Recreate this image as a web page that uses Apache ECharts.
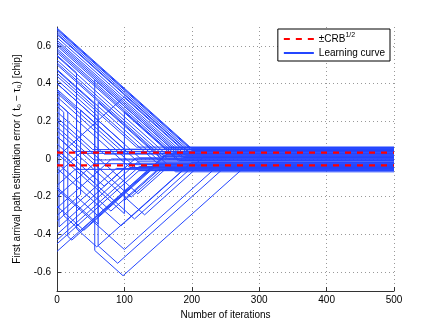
<!DOCTYPE html>
<html>
<head>
    <meta charset="utf-8">
    <title>learning curves</title>
    <script src="https://cdn.jsdelivr.net/npm/echarts@6/dist/echarts.min.js"></script>
    <style>
        html, body { margin: 0; padding: 0; background: #fff; }
        #chart { width: 436px; height: 328px; }
    </style>
</head>
<body>
<div id="chart"></div>
<script>
    // tick labels
    var xTicks = [0, 100, 200, 300, 400, 500];
    var yTicks = [-0.6, -0.4, -0.2, 0, 0.2, 0.4, 0.6];
    var crbLevel = 0.034;

    // learning curves, breakpoints [iteration, error]
    var descendingCurves = [
        [[0, 0.695], [200, 0.055], [500, 0.055]],
        [[0, 0.69], [197, 0.06], [500, 0.06]],
        [[0, 0.685], [200, 0.045], [500, 0.045]],
        [[0, 0.675], [192, 0.06], [500, 0.06]],
        [[0, 0.665], [195, 0.04], [500, 0.04]],
        [[0, 0.66], [197, 0.03], [500, 0.03]],
        [[0, 0.645], [186, 0.05], [500, 0.05]],
        [[0, 0.63], [191, 0.02], [500, 0.02]],
        [[0, 0.62], [181, 0.04], [500, 0.04]],
        [[0, 0.61], [188, 0.008], [500, 0.008]],
        [[0, 0.60], [184, 0.01], [500, 0.01]],
        [[0, 0.585], [172, 0.035], [500, 0.035]],
        [[0, 0.575], [182, -0.008], [500, -0.008]],
        [[0, 0.565], [180, -0.01], [500, -0.01]],
        [[0, 0.545], [162, 0.025], [500, 0.025]],
        [[0, 0.525], [164, 0.0], [500, 0.0]],
        [[0, 0.51], [155, 0.014], [500, 0.014]],
        [[0, 0.50], [152, 0.015], [500, 0.015]],
        [[0, 0.475], [150, -0.005], [500, -0.005]],
        [[0, 0.455], [148, -0.02], [500, -0.02]],
        [[0, 0.44], [118, 0.063], [500, 0.063]],
        [[0, 0.40], [123, 0.005], [500, 0.005]],
        [[0, 0.37], [125, -0.03], [500, -0.03]],
        [[0, 0.35], [100, 0.03], [500, 0.03]],
        [[0, 0.33], [122, -0.062], [500, -0.062]],
        [[0, 0.30], [108, -0.045], [500, -0.045]],
        [[0, 0.25], [70, 0.026], [500, 0.026]],
        [[0, 0.22], [53, 0.05], [500, 0.05]],
        [[0, 0.17], [55, -0.005], [500, -0.005]],
        [[0, 0.12], [25, 0.04], [500, 0.04]]
    ];
    var risingCurves = [
        [[0, -0.49], [142, -0.035], [500, -0.035]],
        [[0, -0.45], [122, -0.06], [500, -0.06]],
        [[0, -0.43], [122, -0.04], [500, -0.04]],
        [[0, -0.40], [120, -0.015], [500, -0.015]],
        [[0, -0.33], [88, -0.05], [500, -0.05]],
        [[0, -0.26], [81, 0.0], [500, 0.0]],
        [[0, -0.20], [55, -0.025], [500, -0.025]],
        [[0, -0.14], [27, -0.055], [500, -0.055]],
        [[0, -0.08], [34, 0.03], [500, 0.03]]
    ];
    var overshootCurves = [
        [[0, 0.12], [130, -0.296], [216, -0.02], [500, -0.02]],
        [[0, 0.05], [115, -0.318], [217, 0.01], [500, 0.01]],
        [[0, 0.20], [120, -0.184], [162, -0.05], [500, -0.05]],
        [[0, -0.02], [80, -0.276], [148, -0.06], [500, -0.06]],
        [[0, 0.08], [70, -0.144], [117, 0.005], [500, 0.005]],
        [[0, -0.16], [100, -0.48], [236, -0.045], [500, -0.045]],
        [[0, -0.05], [95, -0.354], [200, -0.018], [500, -0.018]],
        [[0, -0.25], [40, -0.378], [150, -0.026], [500, -0.026]],
        [[0, 0.15], [110, -0.202], [155, -0.058], [500, -0.058]]
    ];
    var jumpCurves = [
        [[0, 0.30], [16, 0.249], [16, -0.41], [22, -0.43], [138, -0.06], [500, -0.06]],
        [[0, 0.36], [29, 0.267], [29, -0.37], [59, -0.466], [194, -0.035], [500, -0.035]],
        [[0, 0.47], [56, 0.291], [56, -0.485], [98, -0.619], [276, -0.05], [500, -0.05]],
        [[0, 0.42], [61, 0.225], [61, -0.46], [90, -0.553], [250, -0.04], [500, -0.04]],
        [[0, 0.01], [100, 0.33], [190, 0.042], [500, 0.042]],
        [[0, 0.03], [100, -0.29], [100, 0.25], [160, 0.058], [500, 0.058]],
        [[0, 0.37], [3, 0.36], [3, -0.36], [106, -0.03], [500, -0.03]],
        [[0, 0.28], [10, 0.248], [10, -0.30], [35, -0.38], [160, 0.02], [500, 0.02]],
        [[0, -0.30], [35, -0.188], [35, 0.26], [100, 0.052], [500, 0.052]],
        [[0, 0.05], [56, -0.129], [56, 0.42], [168, 0.062], [500, 0.062]],
        [[0, -0.15], [61, -0.345], [61, 0.30], [176, -0.068], [500, -0.068]],
        [[0, 0.55], [29, 0.457], [29, -0.20], [61, -0.302], [168, 0.04], [500, 0.04]],
        [[0, 0.40], [100, 0.08], [100, -0.22], [152, -0.054], [500, -0.054]]
    ];

    var CRB = '±CRB1/2';
    var LC = 'Learning curve';
    var FONT = 'Liberation Sans';
    var BLUE = '#2446ff';

    var chart = echarts.init(document.getElementById('chart'), null, {renderer: 'canvas'});

    var allCurves = descendingCurves.concat(risingCurves, overshootCurves, jumpCurves);
    var series = [];
    allCurves.forEach(function (c) {
        series.push({
            name: LC,
            type: 'line',
            data: c,
            symbol: 'none',
            silent: true,
            z: 2,
            lineStyle: {color: BLUE, width: 1},
            itemStyle: {color: BLUE}
        });
    });
    [crbLevel, -crbLevel].forEach(function (v) {
        series.push({
            name: CRB,
            type: 'line',
            data: [[0, v], [500, v]],
            symbol: 'none',
            silent: true,
            z: 5,
            lineStyle: {color: '#ff0000', width: 2.4, type: [6, 6]},
            itemStyle: {color: '#ff0000'}
        });
    });

    var option = {
        animation: false,
        backgroundColor: '#fff',
        textStyle: {fontFamily: FONT},
        grid: {left: 57, right: 42, top: 27, bottom: 37},
        legend: {
            data: [CRB, LC],
            orient: 'vertical',
            right: 46,
            top: 29,
            itemWidth: 30,
            itemHeight: 10,
            itemGap: 4,
            padding: [3, 5, 3, 5],
            borderColor: '#000',
            borderWidth: 1,
            borderRadius: 0,
            backgroundColor: '#fff',
            selectedMode: false,
            itemStyle: {opacity: 0},
            textStyle: {
                fontFamily: FONT,
                fontSize: 10,
                color: '#000',
                rich: {
                    a: {fontFamily: FONT, fontSize: 10, color: '#000', lineHeight: 14},
                    b: {fontFamily: FONT, fontSize: 7, color: '#000', verticalAlign: 'top', lineHeight: 14}
                }
            },
            formatter: function (name) {
                return name === CRB ? '{a|±CRB}{b|1/2}' : name;
            }
        },
        xAxis: {
            type: 'value',
            min: 0,
            max: 500,
            interval: 100,
            name: 'Number of iterations',
            nameLocation: 'middle',
            nameGap: 17,
            nameTextStyle: {fontFamily: FONT, fontSize: 10, color: '#000'},
            axisLine: {onZero: false, lineStyle: {color: '#333', width: 1}},
            axisTick: {inside: true, length: 4, lineStyle: {color: '#333'}},
            axisLabel: {fontFamily: FONT, fontSize: 10, color: '#000', margin: 4},
            splitLine: {show: true, lineStyle: {color: '#999', width: 1, type: [1, 3]}}
        },
        yAxis: {
            type: 'value',
            min: -0.7,
            max: 0.7,
            name: 'First arrival path estimation error ( t₀ − τ₀) [chip]',
            nameLocation: 'middle',
            nameGap: 35,
            nameTextStyle: {fontFamily: FONT, fontSize: 10, color: '#000'},
            axisLine: {show: true, onZero: false, lineStyle: {color: '#333', width: 1}},
            axisTick: {show: true, inside: true, length: 4, customValues: yTicks, lineStyle: {color: '#333'}},
            axisLabel: {
                fontFamily: FONT, fontSize: 10, color: '#000', margin: 6,
                customValues: yTicks,
                formatter: function (v) { return v === 0 ? '0' : v.toFixed(1); }
            },
            splitLine: {show: true, lineStyle: {color: '#999', width: 1, type: [1, 3]}}
        },
        series: series
    };
    chart.setOption(option);
</script>
</body>
</html>
